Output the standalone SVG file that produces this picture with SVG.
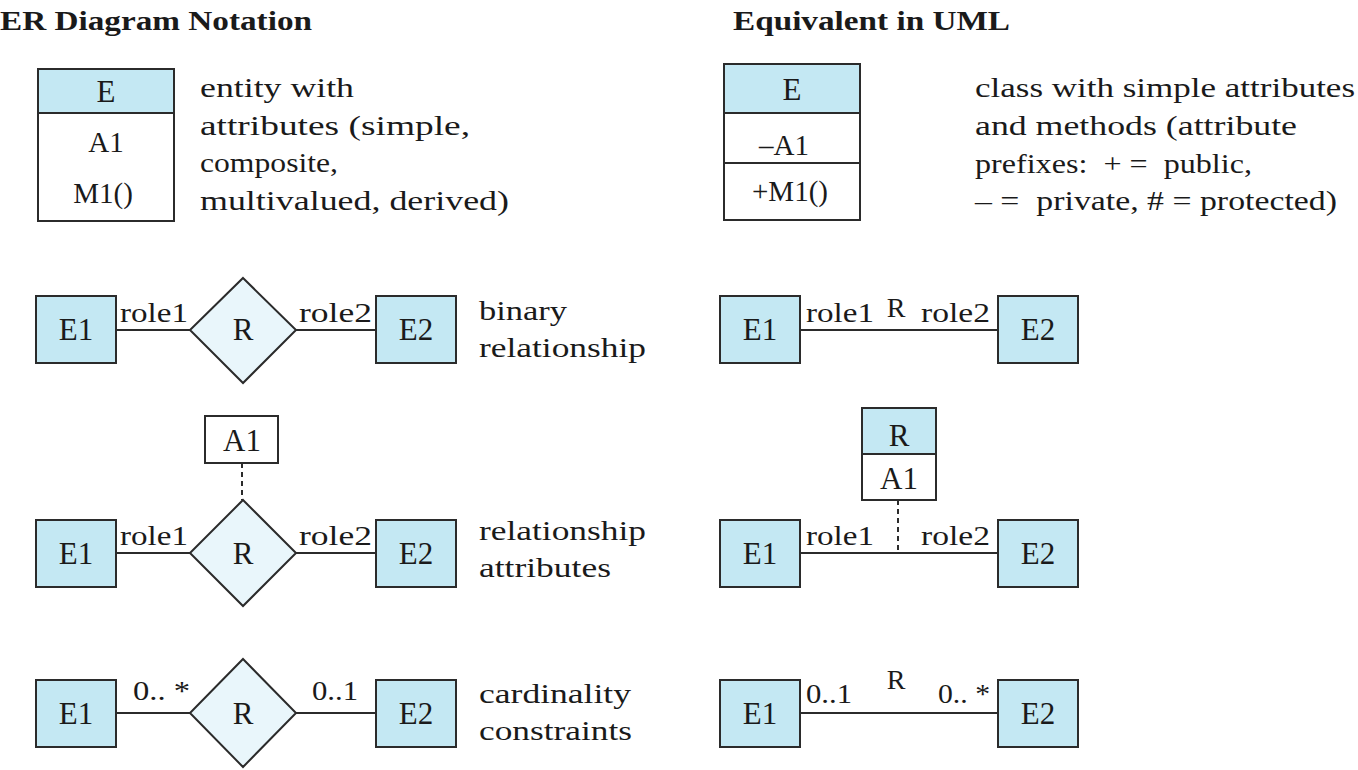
<svg xmlns="http://www.w3.org/2000/svg" width="1358" height="770" viewBox="0 0 1358 770">
<style>
text{font-family:"Liberation Serif","Times New Roman",serif;font-size:28px;fill:#1a1a1a}
.t{font-weight:bold;font-size:28px}
.c{text-anchor:middle}
.lb{font-size:31px}
.cb{font-size:29px}
.ent{fill:#c4e8f3;stroke:#2b2b2b;stroke-width:2}
.box{fill:#ffffff;stroke:#2b2b2b;stroke-width:2}
.dia{fill:#e9f6fb;stroke:#2b2b2b;stroke-width:2}
.ln{stroke:#2b2b2b;stroke-width:2;fill:none}
.dot{stroke:#2b2b2b;stroke-width:2;stroke-dasharray:5 4;fill:none}
</style>
<rect width="1358" height="770" fill="#ffffff"/>
<g id="titles">
<text class="t" x="0" y="30" textLength="312" lengthAdjust="spacingAndGlyphs">ER Diagram Notation</text>
<text class="t" x="733" y="30" textLength="277" lengthAdjust="spacingAndGlyphs">Equivalent in UML</text>
</g>
<g id="connectors">
<line class="ln" x1="116" y1="330" x2="190" y2="330"/>
<line class="ln" x1="296" y1="330" x2="376" y2="330"/>
<line class="dot" x1="242" y1="463" x2="242" y2="500"/>
<line class="ln" x1="116" y1="553" x2="190" y2="553"/>
<line class="ln" x1="296" y1="553" x2="376" y2="553"/>
<line class="ln" x1="116" y1="713" x2="190" y2="713"/>
<line class="ln" x1="296" y1="713" x2="376" y2="713"/>
<line class="ln" x1="800" y1="330" x2="998" y2="330"/>
<line class="dot" x1="898" y1="500" x2="898" y2="553"/>
<line class="ln" x1="800" y1="553" x2="998" y2="553"/>
<line class="ln" x1="800" y1="713" x2="998" y2="713"/>
</g>
<g id="er-entity">
<rect class="box" x="38" y="69" width="136" height="152"/>
<rect class="ent" x="38" y="69" width="136" height="44"/>
<text class="c lb" x="106" y="102">E</text>
<text class="c cb" x="106" y="152">A1</text>
<text class="c cb" x="103" y="203">M1()</text>
</g>
<g id="er-entity-desc">
<text x="200" y="97" textLength="154" lengthAdjust="spacingAndGlyphs">entity with</text>
<text x="200" y="135" textLength="270" lengthAdjust="spacingAndGlyphs">attributes (simple,</text>
<text x="200" y="172" textLength="138" lengthAdjust="spacingAndGlyphs">composite,</text>
<text x="200" y="210" textLength="309" lengthAdjust="spacingAndGlyphs">multivalued, derived)</text>
</g>
<g id="uml-class">
<rect class="box" x="724" y="64" width="136" height="156"/>
<rect class="ent" x="724" y="64" width="136" height="49"/>
<line class="ln" x1="724" y1="163" x2="860" y2="163"/>
<text class="c lb" x="792" y="100">E</text>
<text class="c cb" x="784" y="155">–A1</text>
<text class="c cb" x="790" y="201">+M1()</text>
</g>
<g id="uml-class-desc">
<text x="975" y="97" textLength="380" lengthAdjust="spacingAndGlyphs">class with simple attributes</text>
<text x="975" y="135" textLength="322" lengthAdjust="spacingAndGlyphs">and methods (attribute</text>
<text x="975" y="173" textLength="277" lengthAdjust="spacingAndGlyphs" xml:space="preserve">prefixes:  + =  public,</text>
<text x="975" y="210" textLength="362" lengthAdjust="spacingAndGlyphs" xml:space="preserve">– =  private, # = protected)</text>
</g>
<g id="er-binary">
<rect class="ent" x="36" y="296" width="80" height="67"/>
<text class="c lb" x="76" y="340">E1</text>
<polygon class="dia" points="243,278 296,330 243,383 190,330"/>
<text class="c lb" x="243" y="340">R</text>
<rect class="ent" x="376" y="296" width="80" height="67"/>
<text class="c lb" x="416" y="340">E2</text>
<text x="120" y="322" textLength="68" lengthAdjust="spacingAndGlyphs">role1</text>
<text x="299" y="322" textLength="73" lengthAdjust="spacingAndGlyphs">role2</text>
<text x="479" y="320" textLength="88" lengthAdjust="spacingAndGlyphs">binary</text>
<text x="479" y="357" textLength="167" lengthAdjust="spacingAndGlyphs">relationship</text>
</g>
<g id="er-relattr">
<rect class="box" x="205" y="416" width="73" height="47"/>
<text class="c lb" x="242" y="451">A1</text>
<rect class="ent" x="36" y="520" width="80" height="67"/>
<text class="c lb" x="76" y="564">E1</text>
<polygon class="dia" points="243,500 296,553 243,606 190,553"/>
<text class="c lb" x="243" y="564">R</text>
<rect class="ent" x="376" y="520" width="80" height="67"/>
<text class="c lb" x="416" y="564">E2</text>
<text x="120" y="545" textLength="68" lengthAdjust="spacingAndGlyphs">role1</text>
<text x="299" y="545" textLength="73" lengthAdjust="spacingAndGlyphs">role2</text>
<text x="479" y="540" textLength="167" lengthAdjust="spacingAndGlyphs">relationship</text>
<text x="479" y="577" textLength="132" lengthAdjust="spacingAndGlyphs">attributes</text>
</g>
<g id="er-card">
<rect class="ent" x="36" y="680" width="80" height="67"/>
<text class="c lb" x="76" y="724">E1</text>
<polygon class="dia" points="243,659 296,713 243,767 190,713"/>
<text class="c lb" x="243" y="724">R</text>
<rect class="ent" x="376" y="680" width="80" height="67"/>
<text class="c lb" x="416" y="724">E2</text>
<text x="133" y="700" textLength="57" lengthAdjust="spacingAndGlyphs" xml:space="preserve">0.. *</text>
<text x="312" y="700" textLength="46" lengthAdjust="spacingAndGlyphs">0..1</text>
<text x="479" y="703" textLength="152" lengthAdjust="spacingAndGlyphs">cardinality</text>
<text x="479" y="740" textLength="153" lengthAdjust="spacingAndGlyphs">constraints</text>
</g>
<g id="uml-binary">
<rect class="ent" x="720" y="296" width="80" height="67"/>
<text class="c lb" x="760" y="340">E1</text>
<rect class="ent" x="998" y="296" width="80" height="67"/>
<text class="c lb" x="1038" y="340">E2</text>
<text x="806" y="322" textLength="68" lengthAdjust="spacingAndGlyphs">role1</text>
<text class="c" x="896" y="317">R</text>
<text x="921" y="322" textLength="69" lengthAdjust="spacingAndGlyphs">role2</text>
</g>
<g id="uml-relattr">
<rect class="box" x="862" y="408" width="74" height="92"/>
<rect class="ent" x="862" y="408" width="74" height="46"/>
<text class="c lb" x="899" y="446">R</text>
<text class="c lb" x="899" y="489">A1</text>
<rect class="ent" x="720" y="520" width="80" height="67"/>
<text class="c lb" x="760" y="564">E1</text>
<rect class="ent" x="998" y="520" width="80" height="67"/>
<text class="c lb" x="1038" y="564">E2</text>
<text x="806" y="545" textLength="68" lengthAdjust="spacingAndGlyphs">role1</text>
<text x="921" y="545" textLength="69" lengthAdjust="spacingAndGlyphs">role2</text>
</g>
<g id="uml-card">
<rect class="ent" x="720" y="680" width="80" height="67"/>
<text class="c lb" x="760" y="724">E1</text>
<rect class="ent" x="998" y="680" width="80" height="67"/>
<text class="c lb" x="1038" y="724">E2</text>
<text x="806" y="703" textLength="46" lengthAdjust="spacingAndGlyphs">0..1</text>
<text class="c" x="896" y="689">R</text>
<text x="938" y="703" textLength="52" lengthAdjust="spacingAndGlyphs" xml:space="preserve">0.. *</text>
</g>
</svg>
